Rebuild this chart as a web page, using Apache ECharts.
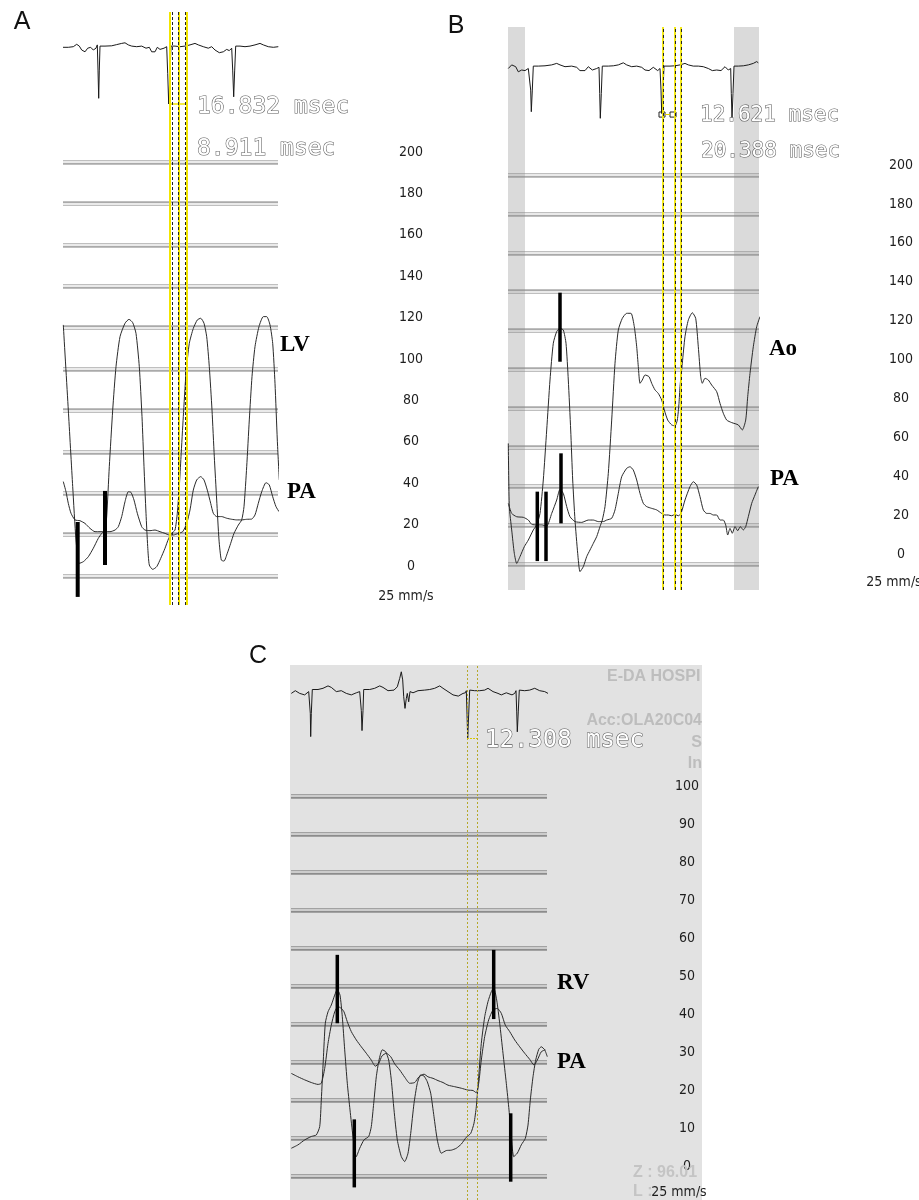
<!DOCTYPE html>
<html><head><meta charset="utf-8">
<script src="https://cdn.jsdelivr.net/npm/echarts/dist/echarts.min.js"></script>
<style>html,body{margin:0;padding:0;background:#fff}#c{width:919px;height:1200px}</style>
</head><body><div id="c"></div>
<script>
// ---------------- DATA (time in s, pressure in mmHg, ECG in mV) ----------------
const A_LV = [[0.003,121.3],[0.053,80.2],[0.097,43.2],[0.13,17.4],[0.163,6.1],[0.203,6.9],[0.253,9.3],[0.303,13.4],[0.353,18.2],[0.387,20.6],[0.42,22.2],[0.437,28.7],[0.463,52.8],[0.497,80.2],[0.53,101.1],[0.57,115.6],[0.62,122.1],[0.66,124],[0.697,122.4],[0.73,117.2],[0.763,101.1],[0.79,77],[0.81,52.8],[0.83,30.3],[0.847,14.2],[0.863,5.3],[0.897,3.2],[0.937,4.5],[0.977,8.5],[1.02,13.4],[1.057,18.2],[1.087,20.6],[1.12,22.2],[1.143,30.3],[1.163,43.2],[1.18,57.6],[1.203,77],[1.23,97.9],[1.263,112.4],[1.303,119.6],[1.343,123.7],[1.377,124.5],[1.41,122.1],[1.437,115.6],[1.463,101.1],[1.49,80.2],[1.513,57.6],[1.537,36.7],[1.56,17.4],[1.583,7.7],[1.61,7.2],[1.643,11],[1.677,15.8],[1.71,20.6],[1.753,24.6],[1.787,27.1],[1.81,33.5],[1.837,52.8],[1.863,75.4],[1.89,96.3],[1.92,110.8],[1.96,120.5],[2.003,125.3],[2.037,125.3],[2.07,121.3],[2.097,112.4],[2.12,93.1],[2.143,65.7],[2.163,46.4]];
const A_PA = [[0.003,45.6],[0.03,40.7],[0.053,35.1],[0.08,30.3],[0.12,27.1],[0.17,26.7],[0.22,25.4],[0.27,23],[0.32,21.4],[0.37,21.4],[0.47,21.4],[0.52,22.2],[0.553,23.8],[0.587,28.7],[0.62,35.9],[0.653,40.7],[0.68,40.4],[0.71,36.7],[0.743,30.3],[0.787,23.8],[0.82,22.2],[0.87,21.9],[0.92,22.2],[0.97,21.4],[1.02,20.6],[1.063,19.8],[1.103,19.8],[1.153,20.6],[1.197,21.4],[1.237,25.4],[1.27,31.9],[1.303,41.5],[1.337,46.4],[1.377,48],[1.41,46.4],[1.443,41.5],[1.477,35.1],[1.503,30.3],[1.537,28.7],[1.587,28.7],[1.637,27.9],[1.687,27.4],[1.737,27.1],[1.787,27.1],[1.837,27.4],[1.887,27.5],[1.92,29.5],[1.953,35.1],[1.987,40.7],[2.03,45.1],[2.063,44],[2.097,38.3],[2.13,33.5],[2.16,31.1]];
const A_ECG = [[0,-0.01],[0.053,-0.01],[0.103,0.01],[0.137,0.09],[0.163,0.03],[0.187,-0.1],[0.22,-0.16],[0.247,-0.04],[0.277,-0.01],[0.303,-0.1],[0.33,-0.04],[0.343,0.07],[0.35,-0.77],[0.357,-1.71],[0.363,-0.77],[0.37,0.03],[0.42,0.03],[0.487,0.04],[0.537,0.08],[0.587,0.12],[0.62,0.14],[0.653,0.07],[0.687,0.03],[0.737,0.01],[0.787,0.03],[0.83,-0.04],[0.863,-0.01],[0.887,-0.16],[0.92,-0.16],[0.943,-0.01],[0.97,-0.08],[1.01,-0.04],[1.037,0.01],[1.047,-0.88],[1.057,-1.9],[1.07,-0.88],[1.08,0.03],[1.12,0.03],[1.17,0.01],[1.22,0.03],[1.27,0.07],[1.32,0.12],[1.353,0.07],[1.403,0.01],[1.453,-0.04],[1.487,0.01],[1.52,-0.1],[1.563,-0.19],[1.603,-0.16],[1.637,-0.08],[1.663,-0.12],[1.687,-0.04],[1.697,-0.77],[1.707,-1.66],[1.717,-0.77],[1.727,0.03],[1.77,0.03],[1.82,0.01],[1.87,0.03],[1.92,0.07],[1.97,0.12],[2.003,0.07],[2.053,0.01],[2.103,-0.01],[2.153,0.01]];
const A_BARS = [[0.147,-10.1,26.1],[0.42,5.3,41.1]];
const A_CURSOR_YELLOW = [1.07,1.16,1.24];
const A_CURSOR_DASH = [1.087,1.147,1.22];
const A_BRACKET = [1.077,1.22,-1.9];
const A_MSEC = ['16.832 msec','8.911 msec'];

const B_AO = [[0.003,62],[0.013,29.5],[0.037,17.5],[0.063,5.5],[0.087,0.3],[0.12,3.8],[0.163,8.9],[0.203,12.3],[0.253,17.5],[0.287,20.1],[0.32,26],[0.353,43.2],[0.387,68.9],[0.42,94.6],[0.453,113.5],[0.487,119.5],[0.52,121.2],[0.553,120.3],[0.58,113.5],[0.603,94.6],[0.627,68.9],[0.647,43.2],[0.67,22.6],[0.697,5.5],[0.72,-3.9],[0.753,-1.4],[0.787,3.8],[0.82,7.2],[0.853,10.6],[0.887,14.1],[0.92,19.2],[0.943,22.6],[0.97,29.5],[1.003,46.6],[1.037,74],[1.07,103.2],[1.103,120.3],[1.143,126.3],[1.187,128.9],[1.23,128.9],[1.263,122],[1.287,111.7],[1.303,101.5],[1.32,92.9],[1.343,94.6],[1.37,97.2],[1.41,96.3],[1.437,92.9],[1.47,89.5],[1.503,87.7],[1.537,84.3],[1.563,79.2],[1.597,74],[1.637,71.5],[1.67,71],[1.693,74],[1.71,82.6],[1.72,91.2],[1.743,103.2],[1.77,116.9],[1.803,125.4],[1.843,129.2],[1.877,126.3],[1.903,111.7],[1.927,96.3],[1.943,92.9],[1.97,95.5],[2.003,94.6],[2.037,92],[2.087,88.6],[2.12,82.6],[2.153,77.5],[2.187,74],[2.237,72.7],[2.303,71.5],[2.343,68.9],[2.377,74],[2.397,86],[2.42,98],[2.453,111.7],[2.487,122],[2.52,127.2]];
const B_PA = [[0.003,31.2],[0.037,26],[0.087,24.3],[0.153,24],[0.203,22.6],[0.237,20.4],[0.287,20.1],[0.337,20.1],[0.387,19.5],[0.437,26],[0.487,32.9],[0.52,38.4],[0.553,36.3],[0.587,29.5],[0.62,24.3],[0.67,21.8],[0.737,21.4],[0.803,22.6],[0.853,22.6],[0.903,21.8],[0.953,21.8],[0.987,22.6],[1.037,23.5],[1.07,27.8],[1.103,36.3],[1.137,44.9],[1.187,49.2],[1.22,50],[1.253,48.3],[1.287,43.2],[1.32,36.3],[1.353,31.2],[1.387,29.5],[1.437,28.6],[1.487,27.8],[1.537,26],[1.57,25.2],[1.603,25.2],[1.637,24.8],[1.67,25.5],[1.703,24.8],[1.73,26],[1.77,32.9],[1.82,39.8],[1.853,42.3],[1.887,40.6],[1.92,34.6],[1.953,27.8],[1.987,26],[2.02,26],[2.053,25.2],[2.087,25.2],[2.12,22.6],[2.153,22.6],[2.177,20.1],[2.197,14.9],[2.22,18.3],[2.243,15.8],[2.27,19.2],[2.297,17.1],[2.323,19.2],[2.353,17.5],[2.377,19.2],[2.403,24.3],[2.437,31.2],[2.47,35.5],[2.503,39.8]];
const B_ECG = [[0.003,-0.06],[0.037,0.06],[0.077,0],[0.103,-0.17],[0.137,-0.11],[0.17,-0.13],[0.203,-0.06],[0.22,-0.02],[0.227,-0.78],[0.233,-1.5],[0.243,-0.78],[0.253,0.02],[0.303,0.02],[0.37,0.03],[0.437,0.06],[0.487,0.11],[0.52,0.06],[0.57,0],[0.637,0.02],[0.687,-0.02],[0.72,-0.13],[0.77,-0.13],[0.803,0],[0.843,-0.11],[0.887,-0.06],[0.91,-0.02],[0.917,-0.89],[0.923,-1.72],[0.933,-0.89],[0.943,0.02],[1.003,0.02],[1.053,0.03],[1.103,0.06],[1.153,0.13],[1.187,0.06],[1.237,0],[1.287,0.02],[1.337,-0.02],[1.37,-0.11],[1.41,-0.13],[1.453,-0.02],[1.497,-0.13],[1.52,-0.06],[1.53,-0.78],[1.537,-1.56],[1.55,-0.78],[1.56,0.02],[1.62,0.02],[1.67,0.03],[1.72,0.06],[1.77,0.11],[1.803,0.06],[1.853,0.02],[1.903,0.02],[1.953,0],[2.003,-0.06],[2.043,-0.13],[2.087,-0.11],[2.13,-0.13],[2.17,0],[2.203,-0.11],[2.227,-0.06],[2.233,-0.89],[2.24,-1.72],[2.25,-0.89],[2.26,0.02],[2.303,0.02],[2.353,0.03],[2.403,0.06],[2.453,0.11],[2.487,0.17],[2.503,0.13]];
const B_BARS = [[0.293,1.5,37.2],[0.38,1.5,37.2],[0.53,20.9,56.9],[0.52,104,139.5]];
const B_CURSORS = [1.553,1.67,1.727];
const B_BANDS = [[0,0.17],[2.26,2.51]];
const B_BOXES = [[1.51,1.57,-1.68,-1.51],[1.62,1.68,-1.68,-1.51]];
const B_MSEC = ['12.621 msec','20.388 msec'];

const C_RV = [[0.003,7.3],[0.07,8.2],[0.137,9.5],[0.203,10.4],[0.253,10.8],[0.287,13],[0.303,20],[0.323,30.5],[0.343,40.2],[0.37,43.2],[0.403,45],[0.437,47.6],[0.463,49.1],[0.49,47.6],[0.513,41.9],[0.537,33.2],[0.563,24.4],[0.59,17.4],[0.62,10.4],[0.653,5.1],[0.687,7.3],[0.73,9.5],[0.777,10.4],[0.803,13],[0.827,19.1],[0.853,26.1],[0.88,30.5],[0.913,33.2],[0.947,32.7],[0.977,30.5],[1.003,25.3],[1.03,17.4],[1.063,9.5],[1.103,5.1],[1.137,3.8],[1.17,6],[1.197,11.2],[1.23,19.1],[1.263,24.4],[1.297,26.6],[1.33,26.3],[1.363,24.8],[1.397,21.8],[1.43,15.6],[1.463,9.5],[1.503,6],[1.553,6.7],[1.603,6.8],[1.653,7.3],[1.703,8.4],[1.753,10.2],[1.797,11.2],[1.83,13.9],[1.853,18.2],[1.877,26.1],[1.903,34.9],[1.937,41.9],[1.97,45.9],[2.003,48.5],[2.027,49.6],[2.057,46.3],[2.087,40.2],[2.12,32.3],[2.153,24.4],[2.18,17.4],[2.203,10.4],[2.227,5.1],[2.263,6],[2.303,8.2],[2.343,9.9],[2.37,13.4],[2.393,20],[2.42,26.1],[2.447,30.5],[2.477,33.3],[2.503,34],[2.537,33.2],[2.563,31.4]];
const C_PA = [[0.003,27],[0.07,26.1],[0.137,25.3],[0.203,24.6],[0.27,24.1],[0.303,24.4],[0.337,28.3],[0.37,34.9],[0.403,39.7],[0.437,43.2],[0.47,44.6],[0.503,44.1],[0.53,43.2],[0.563,40.6],[0.603,38],[0.653,35.8],[0.703,34],[0.753,32.3],[0.803,30.5],[0.843,28.9],[0.877,29.6],[0.91,31.6],[0.953,32.3],[0.997,31.4],[1.037,29.5],[1.087,27.9],[1.137,26],[1.187,24.4],[1.237,24.6],[1.28,26.1],[1.33,26.8],[1.37,26.1],[1.42,25.7],[1.47,25.1],[1.52,24.6],[1.57,23.9],[1.637,23.5],[1.703,23.1],[1.77,22.6],[1.82,22.5],[1.853,21.9],[1.877,24.4],[1.903,30.5],[1.937,36.7],[1.977,41.1],[2.02,43.7],[2.063,44.1],[2.103,42.8],[2.143,39.7],[2.187,38],[2.237,35.8],[2.287,34],[2.337,32.3],[2.387,30.7],[2.43,29.2],[2.463,30.5],[2.503,32.7],[2.543,33.2]];
const C_ECG = [[0.003,-0.09],[0.043,0],[0.087,-0.09],[0.137,-0.14],[0.177,-0.03],[0.187,0.02],[0.193,-0.76],[0.197,-1.53],[0.203,-0.76],[0.213,0.04],[0.27,0.04],[0.32,0.08],[0.37,0.16],[0.403,0.11],[0.453,-0.03],[0.503,0],[0.553,-0.09],[0.603,-0.14],[0.653,-0.07],[0.687,-0.03],[0.697,0.02],[0.703,-0.66],[0.71,-1.33],[0.72,-0.66],[0.727,0.04],[0.787,0.04],[0.837,0.08],[0.887,0.16],[0.92,0.11],[0.97,0],[1.03,0.02],[1.063,0.13],[1.087,0.41],[1.103,0.63],[1.117,0.36],[1.127,-0.2],[1.14,-0.59],[1.153,-0.26],[1.163,-0.09],[1.177,-0.37],[1.19,-0.03],[1.22,-0.07],[1.27,0],[1.337,0.02],[1.387,0.04],[1.437,0.08],[1.487,0.16],[1.52,0.08],[1.57,-0.03],[1.62,-0.14],[1.673,-0.18],[1.72,-0.09],[1.743,-0.07],[1.753,0],[1.76,-0.78],[1.767,-1.57],[1.777,-0.78],[1.787,0.02],[1.837,0],[1.887,0],[1.937,0.02],[1.97,0.08],[2.02,-0.03],[2.07,-0.09],[2.103,-0.14],[2.153,-0.07],[2.21,-0.14],[2.237,-0.09],[2.25,0],[2.257,-0.68],[2.263,-1.37],[2.273,-0.68],[2.283,0.02],[2.337,0],[2.387,0.02],[2.437,0.08],[2.487,0],[2.537,-0.03],[2.57,-0.09]];
const C_BARS = [[0.463,40.2,58.2],[0.633,-3,14.9],[2.027,41.3,59.5],[2.197,-1.5,16.5]];
const C_CURSORS = [1.76,1.86];
const C_BRACKET = [1.76,1.86,-1.57];
const C_MSEC = ['12.308 msec'];
const C_INFO = ['E-DA HOSPI','Acc:OLA20C04','S','In','Z : 96.01','L : '];

const TICKS_AB = [0,20,40,60,80,100,120,140,160,180,200];
const TICKS_C = [0,10,20,30,40,50,60,70,80,90,100];
const SPEED = '25 mm/s';

// ---------------- LAYOUT ----------------
const MONO = '"DejaVu Sans Mono","Liberation Mono",monospace';
const NARROW = '"Liberation Sans Narrow","DejaVu Sans Condensed","Liberation Sans",sans-serif';
const PANELS = [
  {x0:63,x1:278,pTop:162,pBot:576,ticks:TICKS_AB,tMax:2.15,ovTop:12,ovBot:605,base:47,labelX:411,
   bg:'#ffffff',split:'#aaaaaa',traces:[A_LV,A_PA],ecg:A_ECG,bars:A_BARS,barW:4},
  {x0:508,x1:759,pTop:175,pBot:564,ticks:TICKS_AB,tMax:2.51,ovTop:27,ovBot:590,base:66.7,labelX:901,
   bg:'#ffffff',split:'#aaaaaa',traces:[B_AO,B_PA],ecg:B_ECG,bars:B_BARS,barW:3.5},
  {x0:291,x1:547,pTop:796,pBot:1176,ticks:TICKS_C,tMax:2.56,ovTop:665,ovBot:1200,base:690.7,labelX:687,
   bg:'#e2e2e2',split:'#8c8c8c',traces:[C_RV,C_PA],ecg:C_ECG,bars:C_BARS,barW:3.5}
];
const PX_PER_MV = 30;

const grid=[], xAxis=[], yAxis=[], series=[];
PANELS.forEach((P,i)=>{
  const w = P.x1-P.x0;
  grid.push({left:P.x0,top:P.pTop,width:w,height:P.pBot-P.pTop,outerBoundsMode:'none'});
  grid.push({left:P.x0,top:P.ovTop,width:w,height:P.ovBot-P.ovTop,outerBoundsMode:'none'});
  const xa = {type:'value',min:0,max:P.tMax,show:false};
  xAxis.push(Object.assign({gridIndex:2*i},xa));
  xAxis.push(Object.assign({gridIndex:2*i+1},xa));
  const tk = P.ticks;
  const yb = {type:'value',min:tk[0],max:tk[tk.length-1],interval:tk[1]-tk[0],position:'right',
    axisLine:{show:false},axisTick:{show:false}};
  yAxis.push(Object.assign({gridIndex:2*i,
    axisLabel:{show:true,margin:P.labelX-P.x1,align:'center',verticalAlign:'bottom',lineHeight:14,
      color:'#1e1e1e',fontSize:14,fontFamily:NARROW,padding:[0,0,3,0]},
    splitLine:{show:true,lineStyle:{color:P.split,width:4.5}}},yb));
  yAxis.push(Object.assign({gridIndex:2*i,z:1,axisLabel:{show:false},
    splitLine:{show:true,lineStyle:{color:P.bg,width:1.6}}},yb));
  yAxis.push({gridIndex:2*i+1,type:'value',show:false,
    max:(P.base-P.ovTop)/PX_PER_MV,min:-(P.ovBot-P.base)/PX_PER_MV});
  P.traces.forEach(d=>series.push({type:'line',xAxisIndex:2*i,yAxisIndex:3*i,data:d,symbol:'none',
    smooth:0.2,clip:false,z:3,lineStyle:{color:'#2a2a2a',width:1}}));
  series.push({type:'custom',xAxisIndex:2*i,yAxisIndex:3*i,data:P.bars,z:4,clip:false,
    encode:{x:0,y:[1,2]},
    renderItem:(params,api)=>{
      const a=api.coord([api.value(0),api.value(1)]), b=api.coord([api.value(0),api.value(2)]);
      return {type:'line',shape:{x1:a[0],y1:a[1],x2:b[0],y2:b[1]},style:{stroke:'#000',lineWidth:P.barW}};
    }});
  P.ecgSeries = {type:'line',xAxisIndex:2*i+1,yAxisIndex:3*i+2,data:P.ecg,symbol:'none',z:3,
    lineStyle:{color:'#1a1a1a',width:1}};
  series.push(P.ecgSeries);
});

// cursors, brackets and bands
const yellowLine = (v,w)=>({xAxis:v,lineStyle:{color:'#f2e600',width:w,type:'solid'}});
PANELS[0].ecgSeries.markLine = {silent:true,symbol:['none','none'],label:{show:false},
  data: A_CURSOR_YELLOW.map(v=>yellowLine(v,2)).concat([[
    {coord:[A_BRACKET[0],A_BRACKET[2]],lineStyle:{color:'#f2e600',width:1.5,type:'solid'}},
    {coord:[A_BRACKET[1],A_BRACKET[2]]}]])};
series.push({type:'line',xAxisIndex:1,yAxisIndex:2,data:A_ECG,symbol:'none',lineStyle:{opacity:0},z:5,
  markLine:{silent:true,symbol:['none','none'],label:{show:false},
    data:A_CURSOR_DASH.map(v=>({xAxis:v,lineStyle:{color:'#222',width:1,type:[3,2]}}))}});

PANELS[1].ecgSeries.markLine = {silent:true,symbol:['none','none'],label:{show:false},
  data: B_CURSORS.map(v=>yellowLine(v,1.8))};
PANELS[1].ecgSeries.markArea = {silent:true,label:{show:false},
  data: B_BANDS.map(b=>[{xAxis:b[0],itemStyle:{color:'rgba(140,140,140,0.32)'}},{xAxis:b[1]}])
    .concat(B_BOXES.map(b=>[{coord:[b[0],b[2]],itemStyle:{color:'rgba(255,255,255,0)',borderColor:'#222',borderWidth:1}},{coord:[b[1],b[3]]}]))};
series.push({type:'line',xAxisIndex:3,yAxisIndex:5,data:B_ECG,symbol:'none',lineStyle:{opacity:0},z:5,
  markLine:{silent:true,symbol:['none','none'],label:{show:false},
    data:B_CURSORS.map(v=>({xAxis:v,lineStyle:{color:'#222',width:1,type:[3,3]}})).concat([[
      {coord:[B_BOXES[0][1],(B_BOXES[0][2]+B_BOXES[0][3])/2],lineStyle:{color:'#e0d000',width:1,type:'solid'}},
      {coord:[B_BOXES[1][0],(B_BOXES[1][2]+B_BOXES[1][3])/2]}]])}});

PANELS[2].ecgSeries.markLine = {silent:true,symbol:['none','none'],label:{show:false},
  data: C_CURSORS.map(v=>({xAxis:v,lineStyle:{color:'#b5a82a',width:1,type:[2,2]}})).concat([[
    {coord:[C_BRACKET[0],C_BRACKET[2]],lineStyle:{color:'#d8c800',width:1,type:[2,1]}},
    {coord:[C_BRACKET[1],C_BRACKET[2]]}]])};

// ---------------- TEXT ----------------
function txt(x,y,text,font,fill,align,extra){
  return {type:'text',x:x,y:y,z:60,style:Object.assign({text:text,font:font,fill:fill,align:align||'left',verticalAlign:'middle'},extra||{})};
}
const msecStyle = {stroke:'#5a5a5a',lineWidth:1.1};
const graphic = [
  {type:'rect',z:-100,shape:{x:290,y:665,width:412,height:535},style:{fill:'#e2e2e2'}},
  txt(22,22,'A','25px "Liberation Sans",Arial,sans-serif','#111','center'),
  txt(456,26,'B','25px "Liberation Sans",Arial,sans-serif','#111','center'),
  txt(258,656,'C','25px "Liberation Sans",Arial,sans-serif','#111','center'),
  txt(197,107,A_MSEC[0],'23px '+MONO,'#ffffff','left',msecStyle),
  txt(197,149.5,A_MSEC[1],'23px '+MONO,'#ffffff','left',msecStyle),
  txt(700,115.5,B_MSEC[0],'21px '+MONO,'#ffffff','left',msecStyle),
  txt(701,152,B_MSEC[1],'21px '+MONO,'#ffffff','left',msecStyle),
  txt(485,740.5,C_MSEC[0],'24px '+MONO,'#ffffff','left',msecStyle),
  txt(280,345,'LV','bold 23px "Liberation Serif","Times New Roman",serif','#000'),
  txt(287,492,'PA','bold 23px "Liberation Serif","Times New Roman",serif','#000'),
  txt(769,349,'Ao','bold 23px "Liberation Serif","Times New Roman",serif','#000'),
  txt(770,479,'PA','bold 23px "Liberation Serif","Times New Roman",serif','#000'),
  txt(557,983,'RV','bold 23px "Liberation Serif","Times New Roman",serif','#000'),
  txt(557,1062,'PA','bold 23px "Liberation Serif","Times New Roman",serif','#000'),
  txt(406,596,SPEED,'14px '+NARROW,'#1e1e1e','center'),
  txt(894,582,SPEED,'14px '+NARROW,'#1e1e1e','center'),
  txt(607,677,C_INFO[0],'bold 16px "Liberation Sans",Arial,sans-serif','#bdbdbd'),
  txt(702,721,C_INFO[1],'bold 16px "Liberation Sans",Arial,sans-serif','#bdbdbd','right'),
  txt(702,743,C_INFO[2],'bold 16px "Liberation Sans",Arial,sans-serif','#bdbdbd','right'),
  txt(702,764,C_INFO[3],'bold 16px "Liberation Sans",Arial,sans-serif','#bdbdbd','right'),
  txt(633,1173,C_INFO[4],'bold 16px "Liberation Sans",Arial,sans-serif','#c4c4c4'),
  txt(633,1192,C_INFO[5],'bold 16px "Liberation Sans",Arial,sans-serif','#c4c4c4'),
  txt(679,1192,SPEED,'14px '+NARROW,'#1e1e1e','center')
];

const chart = echarts.init(document.getElementById('c'),null,{renderer:'canvas'});
chart.setOption({animation:false,backgroundColor:'#ffffff',grid,xAxis,yAxis,series,graphic});
</script></body></html>
